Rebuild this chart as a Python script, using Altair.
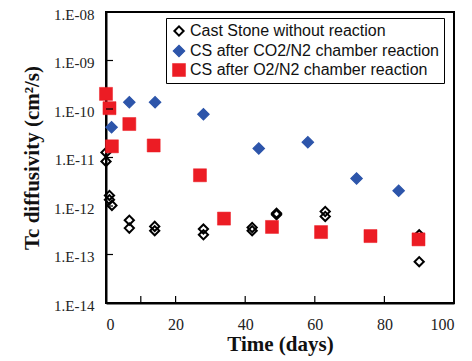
import altair as alt
import pandas as pd

# Cast Stone without reaction
cs_days = [0, 0, 1, 1, 1.7, 6.7, 6.7, 14, 14, 28, 28, 42, 42, 49, 49, 63, 63, 90, 90]
cs_vals = [1.27e-11, 8.3e-12, 1.65e-12, 1.35e-12, 1.03e-12, 5.1e-13, 3.5e-13, 3.8e-13, 3.1e-13,
           3.35e-13, 2.55e-13, 3.6e-13, 3.1e-13, 7.1e-13, 6.6e-13, 7.7e-13, 6.1e-13, 2.55e-13, 7.1e-14]
# CS after CO2/N2 chamber reaction
co2_days = [1.6, 6.7, 14.1, 28, 43.9, 58, 72, 84.1]
co2_vals = [4.2e-11, 1.38e-10, 1.38e-10, 7.8e-11, 1.53e-11, 2.07e-11, 3.7e-12, 2.06e-12]
# CS after O2/N2 chamber reaction
o2_days = [0, 1, 1.7, 6.7, 13.7, 27, 33.9, 47.7, 61.8, 76, 89.8]
o2_vals = [2.05e-10, 1.04e-10, 1.7e-11, 4.9e-11, 1.77e-11, 4.3e-12, 5.5e-13, 3.7e-13, 2.9e-13, 2.4e-13, 2.05e-13]

series = ["Cast Stone without reaction", "CS after CO2/N2 chamber reaction", "CS after O2/N2 chamber reaction"]
x_ticks = [0, 20, 40, 60, 80, 100]
y_ticks = [1e-14, 1e-13, 1e-12, 1e-11, 1e-10, 1e-9, 1e-8]
x_minor = [10, 20, 40, 60, 80]

rows = []
for d, v in zip(cs_days, cs_vals):
    rows.append({"t": d, "D": v, "s": series[0], "o": 0})
for d, v in zip(co2_days, co2_vals):
    rows.append({"t": d, "D": v, "s": series[1], "o": 1})
for d, v in zip(o2_days, o2_vals):
    rows.append({"t": d, "D": v, "s": series[2], "o": 2})
df = pd.DataFrame(rows)

W, H = 348, 291
xscale = alt.Scale(domain=[0, 100], nice=False, zero=False)
yscale = alt.Scale(type="log", domain=[1e-14, 1e-8], nice=False)

label_expr = "'1.E-' + (abs(round(log(datum.value)/LN10)) < 10 ? '0' : '') + abs(round(log(datum.value)/LN10))"

x_axis = alt.Axis(values=x_ticks, title="Time (days)", grid=False, ticks=False,
                  domain=True, domainColor="black", domainWidth=2,
                  labelFontSize=16, labelPadding=13,
                  titleFontSize=21, titleY=47, titleBaseline="alphabetic")
y_axis = alt.Axis(values=y_ticks, labelExpr=label_expr, title="Tc diffusivity (cm²/s)", grid=False,
                  ticks=False, domain=True, domainColor="black", domainWidth=2,
                  labelFontSize=15, labelPadding=12, labelOffset=2,
                  titleFontSize=21, titleX=-68, titleY=145.5, titleBaseline="alphabetic")

leg = alt.Legend(title=None, orient="none", legendX=60, legendY=6)

points = alt.Chart(df).mark_point(filled=False, opacity=1).encode(
    x=alt.X("t:Q", scale=xscale, axis=x_axis),
    y=alt.Y("D:Q", scale=yscale, axis=y_axis),
    shape=alt.Shape("s:N", scale=alt.Scale(domain=series, range=["diamond", "diamond", "square"]), legend=leg),
    fill=alt.Fill("s:N", scale=alt.Scale(domain=series, range=["transparent", "#2D55AA", "#EC1C24"]), legend=leg),
    stroke=alt.Stroke("s:N", scale=alt.Scale(domain=series, range=["black", "#2D55AA", "#EC1C24"]), legend=leg),
    size=alt.Size("s:N", scale=alt.Scale(domain=series, range=[85, 170, 150]), legend=leg),
    strokeWidth=alt.StrokeWidth("s:N", scale=alt.Scale(domain=series, range=[2, 0.5, 0.5]), legend=leg),
    order=alt.Order("o:Q"),
)

tick_df_y = pd.DataFrame({"D": y_ticks[1:-1]})
yticks = alt.Chart(tick_df_y).mark_rule(color="black", strokeWidth=1.2).encode(
    y=alt.Y("D:Q", scale=yscale, axis=y_axis), x=alt.value(0), x2=alt.value(7))
tick_df_x = pd.DataFrame({"t": x_minor})
xticks = alt.Chart(tick_df_x).mark_rule(color="black", strokeWidth=1.2).encode(
    x=alt.X("t:Q", scale=xscale, axis=x_axis), y=alt.value(H), y2=alt.value(H - 7))

chart = alt.layer(points, yticks, xticks).properties(
    width=W, height=H,
    autosize=alt.AutoSizeParams(type="none"),
    padding={"left": 98, "top": 4, "right": 10, "bottom": 58},
).configure_view(stroke="black", strokeWidth=2).configure_axis(
    labelFont="Liberation Serif", labelColor="#222", titleFont="Liberation Serif",
    titleFontWeight="bold", titleColor="#111",
).configure_legend(
    labelFont="Liberation Sans", labelFontSize=16, labelColor="#111",
    strokeColor="black", fillColor="white", padding=5, rowPadding=2,
    symbolSize=85, labelLimit=400, symbolStrokeWidth=2, labelOffset=3, cornerRadius=0,
)

chart.save("out.html", embed_options={"renderer": "svg", "actions": False})
